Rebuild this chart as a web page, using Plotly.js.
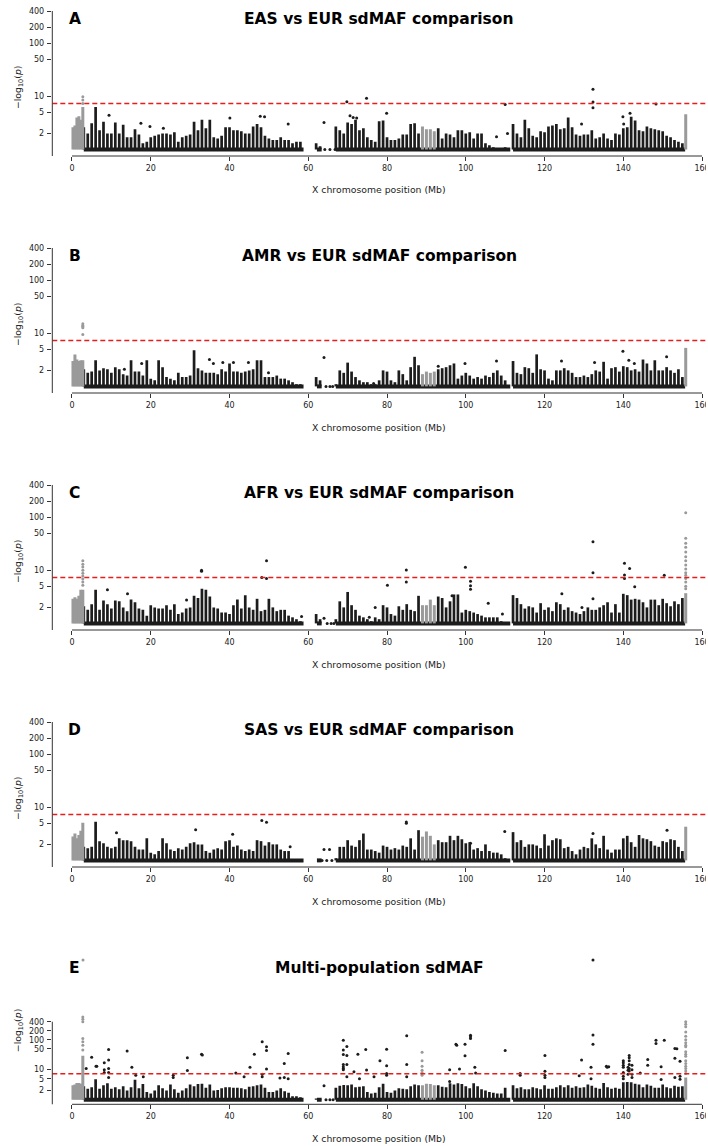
<!DOCTYPE html>
<html><head><meta charset="utf-8">
<script src="https://cdn.plot.ly/plotly-3.0.1.min.js"></script>
<style>html,body{margin:0;padding:0;overflow:hidden;background:#fff}</style>
</head><body><div id="chart" style="width:706px;height:1146px"></div>
<script>
// ---------------- DATA ----------------
// Column tops (-log10 p) of the dense black mass, one value per 1-Mb bin (index = Mb 0..155)
const A_top = [
 null,null,null,2.6,2.0,3.1,6.3,2.3,3.3,2.0,
 2.0,3.2,2.0,2.9,1.7,1.7,2.4,1.9,1.3,1.4,
 1.7,1.8,1.9,2.0,2.0,1.9,2.1,1.4,1.7,1.8,
 1.9,3.3,2.3,3.6,2.5,3.6,1.7,1.6,1.8,2.6,
 2.6,2.3,2.3,2.2,2.0,2.0,2.7,3.0,2.6,1.8,
 1.6,1.5,1.5,1.7,1.5,1.5,1.3,1.4,1.4,null,
 null,null,1.3,1.15,null,null,null,2.7,2.3,2.0,
 3.2,3.0,3.6,2.3,2.5,1.7,1.5,1.4,3.4,3.5,
 1.7,1.5,1.5,1.6,1.9,1.9,3.0,3.1,2.0,null,
 null,null,null,2.5,1.6,2.0,1.9,1.7,2.3,2.3,
 2.0,2.1,1.6,2.0,2.0,1.3,1.2,1.1,1.0,1.0,
 1.1,null,3.0,2.0,1.7,3.6,2.5,1.8,1.7,2.2,
 2.1,2.7,2.8,3.0,2.4,2.5,4.0,2.6,1.9,1.8,
 1.9,1.9,2.3,1.6,1.7,2.0,1.6,1.5,2.0,1.9,
 2.5,2.6,4.1,3.5,2.3,2.2,2.7,2.5,2.4,2.3,
 2.2,1.8,1.7,1.5,1.4,1.3];
const B_top = [
 null,null,null,2.1,1.8,1.9,3.1,2.0,2.2,2.1,
 1.8,2.3,2.1,1.7,1.6,3.1,1.9,1.9,1.6,3.1,
 1.4,1.3,3.1,2.3,1.5,1.4,1.3,1.8,1.5,1.5,
 1.6,4.8,2.2,2.0,1.8,1.8,1.8,1.7,2.1,1.9,
 2.7,1.9,1.9,1.8,1.9,2.0,2.1,3.1,3.1,1.5,
 1.5,1.5,1.6,1.4,1.4,1.3,1.2,1.1,1.1,null,
 null,null,1.5,1.3,null,null,null,1.1,2.0,1.8,
 2.8,1.9,1.5,1.3,1.2,1.2,1.1,1.1,1.3,2.0,
 1.9,1.3,1.2,2.0,1.7,1.3,2.3,3.6,2.5,null,
 null,null,null,2.1,2.2,2.3,2.5,2.7,1.4,1.6,
 1.8,1.6,1.4,1.5,1.4,1.6,1.5,1.8,2.0,1.6,
 1.3,null,3.0,1.8,1.7,2.3,2.2,1.8,4.0,2.1,
 2.0,1.4,1.3,2.0,2.0,2.2,2.0,1.8,1.5,1.5,
 1.6,1.5,1.7,2.0,1.9,2.9,1.4,2.2,2.3,1.9,
 2.4,2.3,2.0,2.1,1.9,3.2,2.7,2.0,3.1,2.0,
 2.0,2.3,2.0,1.8,2.1,1.5];
const C_top = [
 null,null,null,2.1,1.8,2.3,4.3,1.8,2.7,2.3,
 1.9,2.7,2.6,2.0,1.7,2.8,2.5,1.9,1.8,1.4,
 2.2,2.0,1.9,1.9,2.2,1.8,2.3,1.5,1.6,1.9,
 2.0,3.3,3.0,4.5,4.3,3.2,2.0,1.9,1.6,1.6,
 1.5,2.2,2.8,1.9,3.4,2.0,1.8,2.9,1.7,1.8,
 2.9,2.0,1.7,1.8,1.8,1.4,1.3,1.2,1.1,null,
 null,null,1.5,1.2,null,null,null,1.2,2.6,2.0,
 3.9,2.2,1.8,1.4,1.3,1.2,1.1,1.3,1.2,2.2,
 2.0,1.5,1.4,2.1,1.8,2.3,1.8,1.7,3.3,null,
 null,null,null,3.2,3.0,2.0,2.6,3.5,3.5,1.6,
 1.8,1.7,1.6,1.5,1.4,1.3,1.3,1.3,1.3,1.1,
 1.0,null,3.4,3.0,2.3,1.9,2.1,2.0,1.6,2.4,
 1.8,2.0,1.7,2.5,2.3,1.8,2.0,1.7,1.6,1.5,
 1.7,2.0,1.8,1.8,2.0,2.2,2.5,1.6,2.3,1.6,
 3.6,3.4,2.8,2.9,2.8,2.5,2.0,2.8,2.8,2.2,
 2.9,2.4,2.1,2.6,2.3,3.0];
const D_top = [
 null,null,null,1.8,1.7,1.8,5.35,2.3,2.1,1.8,
 1.7,1.8,2.6,2.4,2.4,2.3,1.8,1.6,1.6,2.6,
 1.4,1.3,1.5,2.6,2.1,1.6,1.5,1.7,1.6,1.8,
 2.1,2.2,2.0,2.0,1.5,1.4,1.6,1.7,1.6,2.3,
 2.4,1.8,1.9,1.6,1.5,1.6,1.5,2.4,2.3,1.9,
 2.2,2.0,2.0,1.6,1.5,1.5,1.0,1.0,1.0,null,
 null,null,1.0,1.0,null,null,null,1.1,1.8,1.8,
 2.4,1.9,1.8,2.4,3.2,1.6,1.6,1.5,1.4,1.9,
 1.8,1.6,1.7,1.6,1.9,1.8,2.6,1.6,3.7,null,
 null,null,null,2.4,2.2,2.2,2.9,2.4,2.9,2.5,
 2.1,2.2,1.6,1.7,1.5,2.0,1.5,1.4,1.4,1.3,
 1.1,null,3.4,2.2,2.4,1.8,2.0,2.0,1.9,1.7,
 3.1,1.9,2.4,2.6,2.5,1.7,1.8,1.5,1.3,1.6,
 1.8,1.7,2.6,2.0,1.7,2.9,1.6,1.4,1.6,1.6,
 2.6,2.9,2.2,1.8,3.0,2.6,2.5,2.3,1.9,1.8,
 2.3,2.2,2.5,2.4,1.8,1.5];
const E_top = [
 null,null,null,2.8,2.3,2.6,4.8,2.3,3.0,3.5,
 2.3,2.6,2.2,2.8,2.0,2.6,4.6,2.4,3.3,1.8,
 1.6,2.0,3.0,2.4,2.0,3.2,2.2,1.7,2.0,2.4,
 3.2,2.8,3.3,3.4,2.5,3.2,2.0,2.1,2.4,2.6,
 2.6,2.5,2.5,2.4,2.2,2.7,2.8,3.0,3.2,2.5,
 1.8,1.8,2.0,2.4,1.9,1.7,1.3,1.3,1.2,null,
 null,null,1.1,1.05,null,null,null,2.5,2.9,3.1,
 3.0,3.2,2.6,2.7,2.8,1.8,1.6,1.7,2.6,3.4,
 1.8,1.7,2.0,2.4,2.3,2.2,2.8,3.2,3.0,null,
 null,null,null,3.0,2.7,2.6,3.5,3.2,3.5,3.3,
 2.8,2.4,3.5,2.8,2.2,2.0,1.8,1.7,1.6,1.6,
 2.5,null,3.0,2.4,2.6,2.2,2.2,2.6,2.4,2.2,
 3.0,2.3,2.3,2.6,3.0,2.6,3.0,2.5,2.8,2.5,
 2.6,3.2,2.9,2.5,2.3,3.6,2.6,2.3,2.5,2.3,
 3.8,3.9,3.8,3.4,3.2,2.6,3.2,2.9,2.5,2.5,
 3.2,2.6,2.4,2.9,2.7,2.8];

// Grey (PAR1 / XTR / PAR2) column positions (Mb) and tops per panel
const grayMb = [0.25,0.75,1.25,1.75,2.25,2.75,89,90,91,92,155.85];
const A_gray = [2.6,2.8,4.0,4.2,3.6,6.3,2.7,2.4,2.4,2.2,4.6];
const B_gray = [3.0,4.0,3.2,3.0,3.1,3.1,1.7,1.9,1.8,1.9,5.3];
const C_gray = [2.9,3.1,2.9,3.3,4.3,4.3,2.2,2.2,2.8,2.2,3.7];
const D_gray = [2.8,3.2,2.6,3.0,3.6,5.1,2.8,3.5,2.9,2.0,4.3];
const E_gray = [3.0,3.2,3.6,3.6,3.4,29,3.0,3.4,3.3,3.0,5.5];

// Dense baseline stretches (Mb) where points sit at the floor
const baseSegments = [[3,58.8],[62.2,63.4],[67,111.3],[112,155.7]];

// Individual points standing out above the mass: [Mb, -log10 p]
const A_out = [[9.4,4.4],[17.5,3.1],[19.8,2.7],[23.2,2.5],[40.1,3.9],[47.8,4.2],[48.9,4.1],[54.9,3.0],
 [64.0,3.2],[64.2,1],[65.5,1],[66.8,1],[69.8,7.9],[70.6,4.3],[71.4,4.0],[72.3,3.9],[74.8,9.2],[79.9,4.8],
 [107.8,1.73],[110.0,7.0],[110.6,2.0],[129.4,3.0],[132.3,13.5],[132.3,7.8],[132.3,6.1],[139.9,4.1],
 [140.1,3.0],[141.7,4.8],[148.3,7.1]];
const A_gout = [[2.75,7.3],[2.75,8.5],[2.75,9.8]];
const B_out = [[13.3,2.1],[17.7,2.7],[34.9,3.2],[35.9,2.7],[38.3,2.8],[41.0,2.8],[44.8,2.8],[49.9,1.8],
 [64.0,3.5],[64.5,1],[65.5,1],[66.2,1],[76.6,1.14],[93.0,2.4],[99.8,2.7],[107.8,3.0],[124.3,3.0],
 [132.7,2.8],[139.9,4.6],[141.4,3.1],[142.8,2.7],[151.0,3.6]];
const B_gout = [[2.75,15],[2.75,14],[2.75,13.3],[2.75,12.6],[2.75,9.5]];
const C_out = [[9.0,4.3],[14.1,3.6],[29.1,2.75],[32.9,10],[32.9,9.6],[48.2,7.3],[49.4,15],[49.4,7.0],
 [58.3,1.35],[64.0,1.25],[64.8,1],[65.8,1],[66.5,1],[75.5,1.3],[77.0,2.0],[80.1,5.2],[84.9,10.1],
 [84.9,6.0],[96.5,3.3],[99.9,11.4],[101.2,6.2],[101.2,5.1],[101.2,4.4],[105.7,2.4],[109.3,1.5],
 [124.4,3.6],[129.5,2.0],[132.3,34.4],[132.3,9.0],[132.3,2.9],[140.3,13.5],[140.3,8.1],[140.3,7.0],
 [141.6,10.8],[142.9,4.9],[150.4,8.0]];
const C_gout = [[2.75,15],[2.75,13],[2.75,11.5],[2.75,10],[2.75,8.8],[2.75,7.8],[2.75,6.8],[2.75,6],[2.75,5.2],
 [155.85,120],[155.85,40],[155.85,32],[155.85,27],[155.85,22],[155.85,18],[155.85,15],[155.85,12.5],
 [155.85,10.5],[155.85,9],[155.85,8],[155.85,7],[155.85,6],[155.85,5],[155.85,4.5]];
const D_out = [[11.3,3.3],[31.4,3.75],[40.8,3.1],[48.2,5.6],[49.4,5.2],[55.4,1.8],[63.5,1],[64.0,1.6],
 [64.7,1],[65.4,1.6],[66.0,1],[84.9,5.3],[84.9,5.0],[101.2,2.1],[109.9,3.5],[132.3,3.2],[151.1,3.7]];
const D_gout = [];
const E_out = [[3.6,11],[5.0,26],[6.1,13],[6.3,13],[8.2,17],[8.2,10],[8.2,8],[9.3,47],[9.3,21],[9.3,11],
 [9.3,8],[9.3,5.5],[14.0,42],[15.2,12],[16.2,6.5],[18.1,5.8],[25.7,6.5],[25.7,5.5],[29.3,25],[29.3,9.3],
 [32.9,33],[33.1,31],[41.6,7.8],[43.7,5.8],[45.2,12],[46.3,33],[48.3,85],[48.3,7],[48.3,5.8],[49.4,58],
 [49.4,44],[49.4,10.6],[52.8,5.3],[53.9,16],[53.9,5.5],[54.9,35],[54.9,5],[64.0,2.9],[64.5,1],[65.5,1],
 [66.3,1],[68.9,97],[68.9,45],[68.9,32],[68.9,15],[68.9,12.5],[68.9,11],[68.9,10],[69.8,60],[69.8,30],
 [69.8,15],[69.8,5.8],[71.6,8.5],[72.6,33],[73.0,5],[74.6,47],[74.8,9.7],[76.7,5.8],[78.2,20],[79.9,48],
 [79.9,13.5],[79.9,7.5],[79.9,6.5],[85.0,135],[85.0,15],[85.0,5.8],[95.9,10],[95.9,4],[97.5,70],[97.7,65],
 [98.4,10.5],[99.8,70],[99.8,29],[101.2,140],[101.2,125],[101.2,110],[102.3,12],[102.5,7.7],[110.0,44],
 [113.8,7.5],[113.8,6.5],[120.1,30],[120.1,8.8],[120.1,6.5],[120.1,5.5],[128.8,6.3],[129.4,21],[131.8,12],
 [131.8,5],[132.3,46000],[132.3,145],[132.3,70],[135.7,13],[135.9,12],[136.3,12.5],[140.0,20],[140.0,17],
 [140.0,14],[140.0,12],[140.0,8],[140.0,6],[140.0,5],[141.2,12],[141.2,9.5],[141.2,7],[141.5,30],[141.5,25],
 [141.5,20],[141.5,15],[141.5,11],[141.5,9],[142.2,14],[142.2,10],[142.2,7],[142.2,5.5],[144.3,7.8],
 [146.2,22],[146.2,14],[148.3,97],[148.3,75],[149.6,12.5],[149.6,4.7],[150.4,97],[153.1,51],[153.6,50],
 [153.1,24],[153.1,5.5],[154.4,19],[154.4,6],[154.4,4.8]];
const E_gout = [[2.75,45],[2.75,65],[2.75,85],[2.75,110],[2.75,400],[2.75,480],[2.75,570],[2.8,46000],
 [88.9,38],[88.9,20],[88.9,13],[88.9,9.5],[88.9,8],[88.9,6.5],
 [155.85,400],[155.85,330],[155.85,270],[155.85,180],[155.85,130],[155.85,100],[155.85,80],[155.85,65],
 [155.85,58],[155.85,40],[155.85,33],[155.85,28],[155.85,20],[155.85,16],[155.85,13],[155.85,11],
 [155.85,9],[155.85,7.5]];

const letters = ['A','B','C','D','E'];
const titles = ['EAS vs EUR sdMAF comparison','AMR vs EUR sdMAF comparison','AFR vs EUR sdMAF comparison',
 'SAS vs EUR sdMAF comparison','Multi-population sdMAF'];
const yTicks = [2,5,10,50,100,200,400];
const xTicks = [0,20,40,60,80,100,120,140,160];
const gwThreshold = 7.3;   // -log10(5e-8)
const floorValue = 1;

// ---------------- LAYOUT GEOMETRY ----------------
const W = 706, H = 1146;
const axLeft = 52.3;
const topPx = [11,248,485,722,953];
const botPx = [156,393,630,867,1104.3];
const tick400Px = [11,248,485,722,1021.7];
const yRanges = [[-0.124,2.602],[-0.124,2.602],[-0.124,2.602],[-0.124,2.602],[-0.156,4.896]];
const fy = p => 1 - p / H;
const fx = p => p / W;
const BLACK = '#1c1c1c', GREY = '#9a9a9a', AX = '#333333';
const FONT = 'DejaVu Sans, Verdana, sans-serif';

const tops = [A_top,B_top,C_top,D_top,E_top];
const grays = [A_gray,B_gray,C_gray,D_gray,E_gray];
const outs = [A_out,B_out,C_out,D_out,E_out];
const gouts = [A_gout,B_gout,C_gout,D_gout,E_gout];

const traces = [], shapes = [], annotations = [];
const layout = {width:W, height:H, margin:{l:0,r:0,t:0,b:0}, showlegend:false,
  paper_bgcolor:'#fff', plot_bgcolor:'#fff', font:{family:FONT, color:'#222'}};

for (let i = 0; i < 5; i++) {
  const s = i === 0 ? '' : String(i + 1);
  const xa = 'x' + s, ya = 'y' + s;
  // columns of the dense mass
  const cx = [], cy = [];
  tops[i].forEach((v, mb) => { if (v != null) { cx.push(mb, mb, null); cy.push(floorValue, v, null); } });
  traces.push({type:'scatter', mode:'lines', x:cx, y:cy, xaxis:xa, yaxis:ya,
    line:{color:BLACK, width:2.7}, hoverinfo:'skip'});
  // baseline
  const bx = [], by = [];
  baseSegments.forEach(([a, b]) => { bx.push(a, b, null); by.push(floorValue, floorValue, null); });
  traces.push({type:'scatter', mode:'lines', x:bx, y:by, xaxis:xa, yaxis:ya,
    line:{color:BLACK, width:4}, hoverinfo:'skip'});
  // grey columns
  const gx = [], gy = [];
  grays[i].forEach((v, k) => { gx.push(grayMb[k], grayMb[k], null); gy.push(floorValue, v, null); });
  traces.push({type:'scatter', mode:'lines', x:gx, y:gy, xaxis:xa, yaxis:ya,
    line:{color:GREY, width:3}, hoverinfo:'skip'});
  // outlier points
  traces.push({type:'scatter', mode:'markers', x:outs[i].map(d => d[0]), y:outs[i].map(d => d[1]),
    xaxis:xa, yaxis:ya, marker:{color:BLACK, size:3}, hoverinfo:'skip'});
  traces.push({type:'scatter', mode:'markers', x:gouts[i].map(d => d[0]), y:gouts[i].map(d => d[1]),
    xaxis:xa, yaxis:ya, marker:{color:GREY, size:3}, hoverinfo:'skip'});
  // genome-wide threshold
  traces.push({type:'scatter', mode:'lines', x:[-5,162], y:[gwThreshold,gwThreshold], xaxis:xa, yaxis:ya,
    line:{color:'rgb(232,28,28)', width:1.4, dash:'5px,3px'}, hoverinfo:'skip'});

  layout['xaxis' + s] = {domain:[fx(axLeft), 1], range:[-5, 161], anchor:ya,
    tickvals:xTicks, ticktext:xTicks.map(String), ticks:'outside', ticklen:4, tickwidth:1, tickcolor:AX,
    ticklabeloverflow:'allow',
    showline:false, showgrid:false, zeroline:false, tickfont:{size:8, color:'#222', family:FONT}};
  layout['yaxis' + s] = {domain:[fy(botPx[i]), fy(topPx[i])], type:'log', range:yRanges[i], anchor:xa,
    tickvals:yTicks, ticktext:yTicks.map(String), ticks:'outside', ticklen:4.5, tickwidth:1, tickcolor:AX,
    showline:false, showgrid:false, zeroline:false, ticklabelstandoff:1, ticklabeloverflow:'allow',
    tickfont:{size:8, color:'#222', family:FONT}};

  // trimmed spines
  shapes.push({type:'line', xref:'paper', yref:'paper', x0:fx(axLeft), x1:fx(axLeft),
    y0:fy(tick400Px[i]), y1:fy(botPx[i]), line:{color:AX, width:1}});
  shapes.push({type:'line', xref:xa, yref:'paper', x0:0, x1:160, y0:fy(botPx[i]), y1:fy(botPx[i]),
    line:{color:AX, width:1}});

  const titleY = 19 + 237 * i + (i === 4 ? 0.5 : 0);
  annotations.push({xref:'paper', yref:'paper', x:fx(74.5), y:fy(titleY), text:'<b>' + letters[i] + '</b>',
    showarrow:false, xanchor:'center', yanchor:'middle', font:{size:15.5, color:'#000', family:FONT}});
  annotations.push({xref:'paper', yref:'paper', x:fx(379), y:fy(titleY), text:'<b>' + titles[i] + '</b>',
    showarrow:false, xanchor:'center', yanchor:'middle', font:{size:15.5, color:'#000', family:FONT}});
  annotations.push({xref:'paper', yref:'paper', x:fx(379), y:fy(190 + 237 * i), text:'X chromosome position (Mb)',
    showarrow:false, xanchor:'center', yanchor:'middle', font:{size:9.3, color:'#222', family:FONT}});
  const yc = (topPx[i] + botPx[i]) / 2 + (i === 4 ? 2 : 4);
  annotations.push({xref:'paper', yref:'paper', x:fx(18.5), y:fy(yc), text:'\u2212log<sub>10</sub>(<i>p</i>)',
    textangle:-90, showarrow:false, xanchor:'center', yanchor:'middle', font:{size:9.3, color:'#222', family:FONT}});
}
layout.shapes = shapes;
layout.annotations = annotations;
Plotly.newPlot('chart', traces, layout, {staticPlot:true, displayModeBar:false});
</script>
</body></html>
